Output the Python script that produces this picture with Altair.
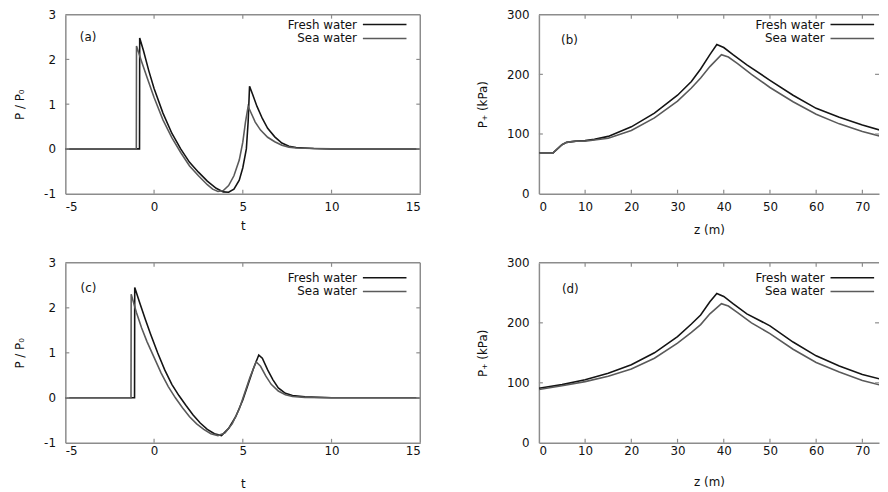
import altair as alt
import pandas as pd

FONT = "DejaVu Sans"
TXT = "#111111"
GRAY = "#8c8c8c"
SERIES = ["Fresh water", "Sea water"]
COLORS = ["#141414", "#5a5a5a"]

# ---- panel (a) : P / P0 versus t ----
ta_fresh = [-5, -0.82, -0.81, -0.6, -0.3, 0, 0.5, 1.0, 1.5, 2.0, 2.5, 3.0, 3.5, 3.9, 4.2, 4.5, 4.8,
            5.0, 5.2, 5.3, 5.38, 5.55, 5.8, 6.1, 6.4, 6.8, 7.2, 7.6, 8.0, 9.0, 10, 15]
pa_fresh = [0, 0, 2.48, 2.2, 1.75, 1.35, 0.8, 0.35, 0.0, -0.3, -0.52, -0.72, -0.88, -0.96, -0.97, -0.9,
            -0.7, -0.42, 0.0, 0.6, 1.4, 1.22, 0.95, 0.68, 0.46, 0.27, 0.13, 0.06, 0.03, 0.01, 0, 0]
ta_sea = [-5, -1.0, -0.99, -0.7, -0.4, 0, 0.5, 1.0, 1.5, 2.0, 2.5, 3.0, 3.3, 3.6, 3.9, 4.2, 4.5, 4.8,
          5.0, 5.15, 5.3, 5.45, 5.7, 6.0, 6.4, 6.8, 7.2, 7.6, 8.0, 9.0, 10, 15]
pa_sea = [0, 0, 2.3, 1.95, 1.6, 1.15, 0.65, 0.25, -0.08, -0.38, -0.6, -0.8, -0.9, -0.95, -0.93, -0.82,
          -0.6, -0.25, 0.15, 0.6, 0.95, 0.82, 0.6, 0.42, 0.26, 0.16, 0.08, 0.04, 0.02, 0.01, 0, 0]

# ---- panel (c) : P / P0 versus t ----
tc_fresh = [-5, -1.1, -1.09, -0.8, -0.5, -0.2, 0.2, 0.6, 1.0, 1.4, 1.8, 2.2, 2.6, 3.0, 3.4, 3.8, 4.2,
            4.6, 5.0, 5.3, 5.6, 5.9, 6.1, 6.4, 6.7, 7.0, 7.4, 7.8, 8.5, 10, 15]
pc_fresh = [0, 0, 2.45, 2.1, 1.75, 1.42, 1.0, 0.62, 0.3, 0.05, -0.17, -0.38, -0.56, -0.7, -0.8, -0.84,
            -0.68, -0.42, -0.05, 0.3, 0.65, 0.95, 0.88, 0.62, 0.4, 0.22, 0.1, 0.05, 0.02, 0, 0]
tc_sea = [-5, -1.3, -1.29, -1.0, -0.7, -0.4, 0, 0.4, 0.8, 1.2, 1.6, 2.0, 2.4, 2.8, 3.2, 3.6, 4.0, 4.4,
          4.8, 5.1, 5.4, 5.75, 6.0, 6.3, 6.6, 7.0, 7.4, 7.8, 8.5, 10, 15]
pc_sea = [0, 0, 2.3, 1.9, 1.55, 1.25, 0.9, 0.55, 0.25, 0.0, -0.22, -0.42, -0.58, -0.7, -0.8, -0.84,
          -0.78, -0.58, -0.25, 0.1, 0.45, 0.8, 0.7, 0.48, 0.3, 0.15, 0.07, 0.03, 0.01, 0, 0]

# ---- panel (b) : P+ (kPa) versus z (m) ----
zb_fresh = [0, 3, 4, 5, 6, 8, 10, 12, 15, 20, 25, 30, 33, 35, 37, 38.5, 40, 42, 45, 50, 55, 60, 65, 70, 75]
pb_fresh = [68, 68, 75, 82, 86, 88, 89, 91, 96, 112, 135, 165, 188, 209, 233, 250, 245, 233, 216, 190,
            165, 143, 128, 115, 104]
zb_sea = [0, 3, 4, 5, 6, 8, 10, 12, 15, 20, 25, 30, 33, 35, 37, 39.5, 41, 43, 46, 50, 55, 60, 65, 70, 75]
pb_sea = [68, 68, 75, 82, 86, 88, 88, 90, 93, 106, 127, 155, 177, 194, 213, 233, 229, 218, 200, 178,
          154, 133, 117, 104, 94]

# ---- panel (d) : P+ (kPa) versus z (m) ----
zd_fresh = [0, 5, 10, 15, 20, 25, 30, 33, 35, 37, 38.5, 40, 42, 45, 50, 55, 60, 65, 70, 75]
pd_fresh = [91, 97, 105, 116, 130, 150, 177, 198, 213, 235, 249, 244, 232, 215, 195, 168, 145, 128, 114, 104]
zd_sea = [0, 5, 10, 15, 20, 25, 30, 33, 35, 37, 39.5, 41, 43, 46, 50, 55, 60, 65, 70, 75]
pd_sea = [89, 95, 102, 111, 123, 141, 166, 184, 197, 215, 232, 228, 217, 200, 182, 156, 134, 118, 104, 94]

t_ticks = [-5, 0, 5, 10, 15]
p_ticks = [-1, 0, 1, 2, 3]
z_ticks = [0, 10, 20, 30, 40, 50, 60, 70]
k_ticks = [0, 100, 200, 300]

panel_labels = ["(a)", "(b)", "(c)", "(d)"]
label_x = [-3.72, 6.6, -3.7, 6.8]
label_y = [2.5, 258, 2.44, 257]


def make_df(xf, yf, xs, ys):
    rows = []
    for i, (x, y) in enumerate(zip(xf, yf)):
        rows.append({"x": x, "y": y, "series": SERIES[0], "i": i})
    for i, (x, y) in enumerate(zip(xs, ys)):
        rows.append({"x": x, "y": y, "series": SERIES[1], "i": i})
    return pd.DataFrame(rows)


AX = dict(grid=False, domainColor=GRAY, domainWidth=1.5, ticks=False,
          labelFont=FONT, labelFontSize=12, labelColor=TXT, titleFont=FONT, titleFontSize=12,
          titleColor=TXT, titleFontWeight="normal", labelExpr="'' + datum.value")


def tick_layer(xvals, yvals, orient, xoff, yoff):
    d = pd.DataFrame({"x": xvals, "y": yvals})
    return alt.Chart(d).mark_tick(orient=orient, size=4, thickness=1.2, color=GRAY, opacity=1,
                                  xOffset=xoff, yOffset=yoff)


def panel(df, k, xdom, ydom, xticks, yticks, xtitle, ytitle, W, H, right_border,
          xlab_pad, xtitle_pad, ytitle_pad, leg_x, leg_y):
    xs = alt.Scale(domain=xdom, nice=False, zero=False)
    ys = alt.Scale(domain=ydom, nice=False, zero=False)
    lines = alt.Chart(df).mark_line(strokeWidth=1.6, clip=True).encode(
        color=alt.Color("series:N", scale=alt.Scale(domain=SERIES, range=COLORS),
                        legend=alt.Legend(orient="none", legendX=leg_x, legendY=leg_y, title=None,
                                          symbolType="M-6,0H6", symbolSize=54, symbolStrokeWidth=1.5,
                                          labelAlign="right", labelOffset={"expr": "-34"}, labelFont=FONT,
                                          labelFontSize=12, labelColor=TXT, rowPadding=2)),
        order="i:Q",
    )
    layers = [lines]
    layers.append(alt.Chart(pd.DataFrame({"x": [xdom[0]], "x2": [xdom[1]], "y": [ydom[1]]})).mark_rule(
        color=GRAY, strokeWidth=1.5).encode(x2="x2:Q"))
    if right_border:
        layers.append(alt.Chart(pd.DataFrame({"x": [xdom[1]], "y": [ydom[0]], "y2": [ydom[1]]})).mark_rule(
            color=GRAY, strokeWidth=1.5).encode(y2="y2:Q"))
    inner = [x for x in xticks if xdom[0] < x < xdom[1]]
    innery = [y for y in yticks if ydom[0] < y < ydom[1]]
    layers += [
        tick_layer(inner, [ydom[0]] * len(inner), "vertical", 0, -2),
        tick_layer(inner, [ydom[1]] * len(inner), "vertical", 0, 2),
        tick_layer([xdom[0]] * len(innery), innery, "horizontal", 2, 0),
        tick_layer([xdom[1]] * len(innery), innery, "horizontal", -2, 0),
    ]
    lab = alt.Chart(pd.DataFrame({"x": [label_x[k]], "y": [label_y[k]], "t": [panel_labels[k]]})).mark_text(
        font=FONT, fontSize=12, color=TXT, align="center", baseline="middle"
    ).encode(text="t:N")
    layers.append(lab)
    return alt.layer(*layers).encode(
        x=alt.X("x:Q", scale=xs, axis=alt.Axis(orient="bottom", values=xticks, labelPadding=xlab_pad,
                                               title=xtitle, titlePadding=xtitle_pad, **AX)),
        y=alt.Y("y:Q", scale=ys, axis=alt.Axis(orient="left", values=yticks, labelPadding=10,
                                               title=ytitle, titlePadding=ytitle_pad, **AX)),
    ).properties(width=W, height=H)


pa = panel(make_df(ta_fresh, pa_fresh, ta_sea, pa_sea), 0, [-5, 15], [-1, 3], t_ticks, p_ticks,
           "t", "P / P₀", 359, 181, True, 8, 8, 17, 317, 4)
pb = panel(make_df(zb_fresh, pb_fresh, zb_sea, pb_sea), 1, [0, 73.6], [0, 300], z_ticks, k_ticks,
           "z (m)", "P₊ (kPa)", 344, 181, False, 8, 12, 17, 311, 4)
pc = panel(make_df(tc_fresh, pc_fresh, tc_sea, pc_sea), 2, [-5, 15], [-1, 3], t_ticks, p_ticks,
           "t", "P / P₀", 359, 182, True, 3, 22, 17, 317, 9)
pdd = panel(make_df(zd_fresh, pd_fresh, zd_sea, pd_sea), 3, [0, 73.6], [0, 300], z_ticks, k_ticks,
            "z (m)", "P₊ (kPa)", 344, 182, False, 3, 20, 17, 311, 9)

top = alt.hconcat(pa, pb, spacing=56).resolve_scale(color="independent").resolve_legend(color="independent")
bot = alt.hconcat(pc, pdd, spacing=56).resolve_scale(color="independent").resolve_legend(color="independent")

chart = alt.vconcat(top, bot, spacing=22).resolve_scale(color="independent").resolve_legend(
    color="independent").properties(
    padding={"left": 6, "top": -2, "right": 0, "bottom": 0}, background="white"
).configure_view(stroke=None)

chart.save("out.html", embed_options={"renderer": "svg", "actions": False})
